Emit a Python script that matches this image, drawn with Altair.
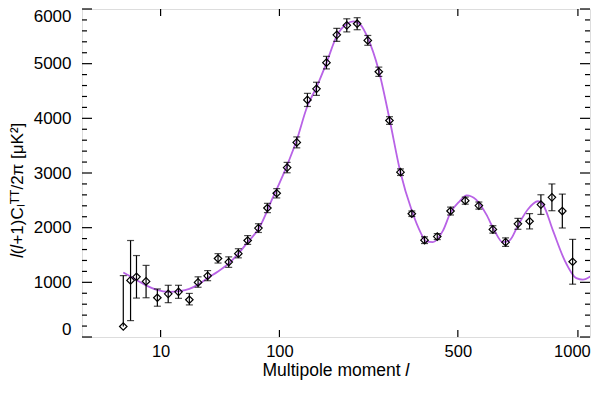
import altair as alt
import pandas as pd

# ---- binned data points (multipole l, D_l, lower and upper error) ----
ell = [2, 3, 4, 6, 9, 12.6, 16.7, 21.8, 26.5, 32.3, 39.4, 47.6, 55.8, 64.5, 75.5,
       85.5, 96.6, 110, 123.4, 139.3, 153.7, 170.6, 189.2, 208.3, 229.3, 252.1,
       277.1, 302.7, 330.5, 360.7, 396.5, 434.3, 476.1, 525, 572.9, 624.8, 674.2,
       724.3, 773.9, 823.7, 874, 923.2, 973.6]
cl = [192, 1035, 1101, 1017, 718, 790, 826, 682, 999, 1119, 1436, 1371, 1525, 1765, 1992,
      2360, 2629, 3099, 3560, 4337, 4540, 5019, 5527, 5701, 5731, 5426,
      4852, 3960, 3015, 2255, 1771, 1837, 2304, 2494, 2404, 1968, 1735,
      2070, 2117, 2422, 2555, 2304, 1376]
err_lo = [192, 300, 712, 718, 563, 628, 707, 587, 910, 1030, 1353, 1274, 1448, 1694, 1912,
          2275, 2544, 3004, 3460, 4217, 4420, 4904, 5407, 5581, 5621, 5336,
          4767, 3890, 2955, 2205, 1710, 1782, 2232, 2429, 2339, 1900, 1657,
          1970, 1977, 2242, 2310, 1994, 966]
err_hi = [1123, 1765, 1490, 1310, 879, 946, 946, 797, 1101, 1215, 1525, 1466, 1615, 1855, 2072,
          2445, 2714, 3194, 3660, 4457, 4660, 5134, 5647, 5821, 5841, 5516,
          4937, 4030, 3075, 2305, 1832, 1892, 2376, 2559, 2469, 2036, 1813,
          2170, 2257, 2602, 2800, 2614, 1786]

# ---- best-fit model curve ----
model_ell = [2, 3, 3.9, 6.1, 8.6, 13, 17, 21.8, 26.5, 32.3, 39.4, 47.6, 55.8, 64.5, 75.5,
             91.7, 110, 123, 139, 154, 171, 189, 208, 222, 236, 252, 277, 303, 330,
             361, 385, 401, 421, 452, 476, 506, 530, 563, 600, 631, 663, 690, 724,
             766, 810, 833, 879, 934, 992, 1025, 1090]
model_cl = [1179, 1105, 1048, 940, 868, 825, 838, 879, 958, 1077, 1197, 1346, 1525, 1735, 1974,
            2543, 3141, 3589, 4217, 4576, 5024, 5503, 5724, 5772, 5713, 5473, 4875, 3978, 3022,
            2304, 1915, 1748, 1735, 1945, 2274, 2483, 2591, 2512, 2243, 1945, 1735, 1766, 2035,
            2333, 2483, 2422, 1945, 1407, 1077, 1048, 1180]

# ---- axis ticks ----
x_ticks = [10, 100, 500, 1000]
y_major = [0, 1000, 2000, 3000, 4000, 5000, 6000]
y_minor = [v for v in range(200, 6000, 200) if v % 1000 != 0]

W, H = 508, 328
FONT = "Liberation Sans"

pts = pd.DataFrame({"l": ell, "v": cl, "lo": err_lo, "hi": err_hi})
model = pd.DataFrame({"l": model_ell, "v": model_cl})
xt = pd.DataFrame({"t": x_ticks})
ymaj = pd.DataFrame({"t": y_major})
ymin = pd.DataFrame({"t": y_minor})

xscale = alt.Scale(type="pow", exponent=0.4, domain=[0, 1062], nice=False)
yscale = alt.Scale(domain=[0, 6000], nice=False)

xaxis = alt.Axis(values=x_ticks, format="d", ticks=False, domain=False, grid=False,
                 labelPadding=6, labelFontSize=16.5,
                 labelOffset=alt.condition("datum.value == 1000", alt.value(-6), alt.value(0)),
                 title="Multipole moment  𝑙",
                 titleFontSize=17.5, titlePadding=2, titleFontWeight="normal")
yaxis = alt.Axis(values=y_major, format="d", ticks=False, domain=False, grid=False,
                 labelPadding=11, labelFontSize=17, labelFlush=True, labelFlushOffset=1,
                 title="𝑙(𝑙+1)Cₗᵀᵀ/2π [μK²]", titleFontSize=17,
                 titleFontWeight="normal", titleX=-56, titleY=181)


def X(f):
    return alt.X(f"{f}:Q", scale=xscale, axis=xaxis)


def Y(f):
    return alt.Y(f"{f}:Q", scale=yscale, axis=yaxis)


line = alt.Chart(model).mark_line(color="#b862e6", strokeWidth=1.8,
                                  interpolate="monotone", clip=True).encode(
    x=X("l"), y=Y("v"))

bars = alt.Chart(pts).mark_rule(color="black", strokeWidth=1.2).encode(
    x=X("l"), y=Y("lo"), y2="hi")
cap_hi = alt.Chart(pts).mark_tick(color="black", orient="horizontal", size=7,
                                  thickness=1.2).encode(x=X("l"), y=Y("hi"))
cap_lo = alt.Chart(pts).transform_filter("datum.lo < datum.v").mark_tick(
    color="black", orient="horizontal", size=7, thickness=1.2).encode(
    x=X("l"), y=Y("lo"))
points = alt.Chart(pts).mark_point(shape="diamond", size=56, filled=False,
                                   color="black", strokeWidth=1.2, opacity=1).encode(
    x=X("l"), y=Y("v"))

tick_style = dict(color="black", strokeWidth=1.2)
xt_bottom = alt.Chart(xt).mark_rule(**tick_style).encode(
    x=X("t"), y=alt.value(H), y2=alt.value(H - 7))
xt_top = alt.Chart(xt).mark_rule(**tick_style).encode(
    x=X("t"), y=alt.value(0), y2=alt.value(7))
yl_major = alt.Chart(ymaj).mark_rule(**tick_style).encode(
    y=Y("t"), x=alt.value(0), x2=alt.value(10))
yl_minor = alt.Chart(ymin).mark_rule(**tick_style).encode(
    y=Y("t"), x=alt.value(0), x2=alt.value(5))
yr_major = alt.Chart(ymaj).mark_rule(**tick_style).encode(
    y=Y("t"), x=alt.value(W), x2=alt.value(W - 10))
yr_minor = alt.Chart(ymin).mark_rule(**tick_style).encode(
    y=Y("t"), x=alt.value(W), x2=alt.value(W - 5))

chart = alt.layer(
    line, bars, cap_hi, cap_lo, points,
    xt_bottom, xt_top, yl_major, yl_minor, yr_major, yr_minor
).properties(
    width=W, height=H,
    autosize=alt.AutoSizeParams(type="none"),
    padding={"left": 74, "top": 1, "right": 2, "bottom": 45},
).configure_view(
    stroke="black", strokeWidth=1.3
).configure_axis(
    labelFont=FONT, titleFont=FONT, labelColor="black", titleColor="black"
).configure(background="white")

chart.save("out.html", embed_options={"renderer": "svg", "actions": False})
